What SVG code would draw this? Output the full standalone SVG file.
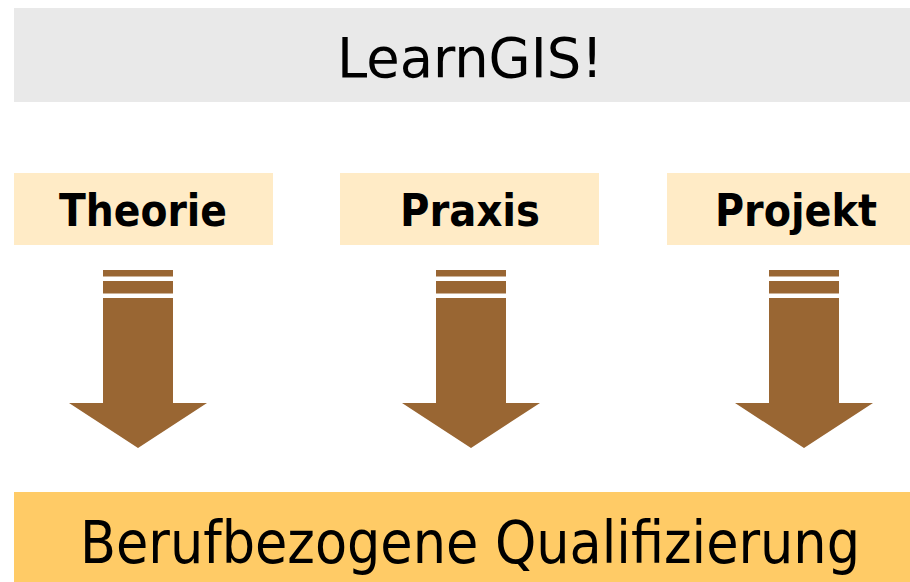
<svg xmlns="http://www.w3.org/2000/svg" width="910" height="582" viewBox="0 0 910 582">
<defs>
<style>
.t{font-family:"DejaVu Sans Condensed","DejaVu Sans",sans-serif;fill:#000;text-anchor:middle}
.pill{fill:#ffebc6}
.ar{fill:#996633}
</style>
<g id="arrow">
<rect class="ar" x="-35" y="270" width="70" height="6.5"/>
<rect class="ar" x="-35" y="281" width="70" height="12.5"/>
<polygon class="ar" points="-35,298 35,298 35,403 69,403 0,448 -69,403 -35,403"/>
</g>
</defs>
<rect width="910" height="582" fill="#fff"/>
<g id="title">
<rect x="14" y="8" width="896" height="94" fill="#e9e9e9"/>
<text class="t" x="470" y="77" font-size="56" textLength="266" lengthAdjust="spacingAndGlyphs">LearnGIS!</text>
</g>
<g id="theorie">
<rect class="pill" x="14" y="173" width="259" height="72"/>
<text class="t" x="143" y="226" font-size="45" font-weight="bold" textLength="168" lengthAdjust="spacingAndGlyphs">Theorie</text>
</g>
<g id="praxis">
<rect class="pill" x="340" y="173" width="259" height="72"/>
<text class="t" x="470" y="226" font-size="45" font-weight="bold" textLength="140" lengthAdjust="spacingAndGlyphs">Praxis</text>
</g>
<g id="projekt">
<rect class="pill" x="667" y="173" width="243" height="72"/>
<text class="t" x="796" y="226" font-size="45" font-weight="bold" textLength="162" lengthAdjust="spacingAndGlyphs">Projekt</text>
</g>
<g id="connectors">
<use href="#arrow" x="138"/>
<use href="#arrow" x="471"/>
<use href="#arrow" x="804"/>
</g>
<g id="result">
<rect x="14" y="492" width="896" height="90" fill="#ffcb66"/>
<text class="t" x="470" y="563" font-size="58" textLength="780" lengthAdjust="spacingAndGlyphs">Berufbezogene Qualifizierung</text>
</g>
</svg>
